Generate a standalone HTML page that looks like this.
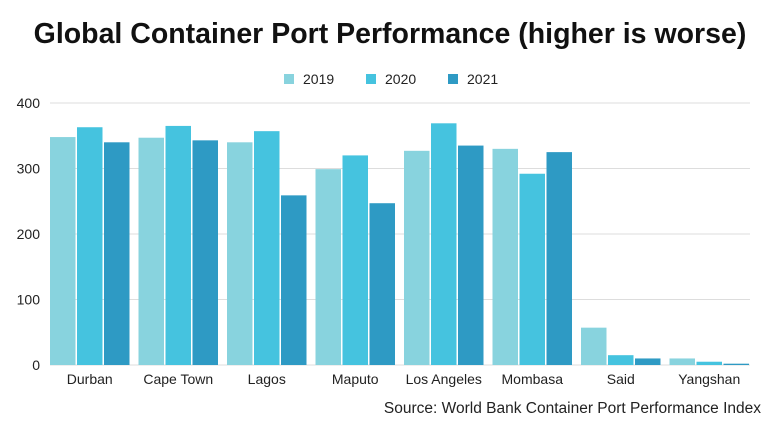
<!DOCTYPE html>
<html><head><meta charset="utf-8"><style>
body{margin:0;background:#fff;width:779px;height:435px;overflow:hidden;font-family:"Liberation Sans",sans-serif}
</style></head><body>
<svg width="779" height="435">
<text x="390" y="43" text-anchor="middle" font-size="28.5" font-weight="bold" fill="#111">Global Container Port Performance (higher is worse)</text>
<g id="legend"></g>
<g id="grid"></g>
<g id="bars"></g>
<g id="xl"></g>
<text x="761" y="413" text-anchor="end" font-size="15.5" fill="#222">Source: World Bank Container Port Performance Index</text>
</svg>
<script>
const categories=["Durban","Cape Town","Lagos","Maputo","Los Angeles","Mombasa","Said","Yangshan"];
const s2019=[348,347,340,299,327,330,57,10];
const s2020=[363,365,357,320,369,292,15,5];
const s2021=[340,343,259,247,335,325,10,2];
const seriesNames=["2019","2020","2021"];
const yTicks=[0,100,200,300,400];
const colors=["#88d3de","#45c3df","#2e9ac4"];
const NS="http://www.w3.org/2000/svg";
function mk(t,a,p){const e=document.createElementNS(NS,t);for(const k in a)e.setAttribute(k,a[k]);p.appendChild(e);return e;}
const y=v=>365-v*0.655;
const x0=50,gw=88.5,bw=25.5,gap=1.5;
const grid=document.getElementById('grid');
yTicks.forEach(t=>{
 const l=mk('line',{x1:50,x2:750,y1:y(t),y2:y(t),stroke:'#ddd','stroke-width':1},grid);
 
 
 const tx=mk('text',{x:40,y:y(t)+5,'text-anchor':'end','font-size':14,fill:'#222'},grid);tx.textContent=t;
 
 
});
const bars=document.getElementById('bars'),xl=document.getElementById('xl');
const all=[s2019,s2020,s2021];
categories.forEach((c,i)=>{
 all.forEach((s,j)=>{
  const r=mk('rect',{x:x0+i*gw+j*(bw+gap),y:y(s[i]),width:bw,height:365-y(s[i]),fill:colors[j]},bars);
  
  
 });
 const t=mk('text',{x:x0+i*gw+(3*bw+2*gap)/2,y:384,'text-anchor':'middle','font-size':14,fill:'#222'},xl);t.textContent=c;
 
 
});
const lg=document.getElementById('legend');
seriesNames.forEach((n,j)=>{
 const lx=284+j*82;
 const r=mk('rect',{x:lx,y:74,width:10,height:10,fill:colors[j]},lg);
 
 
 const t=mk('text',{x:lx+19,y:84,'font-size':14,fill:'#222'},lg);t.textContent=n;
 
 
});
</script>
</body></html>
